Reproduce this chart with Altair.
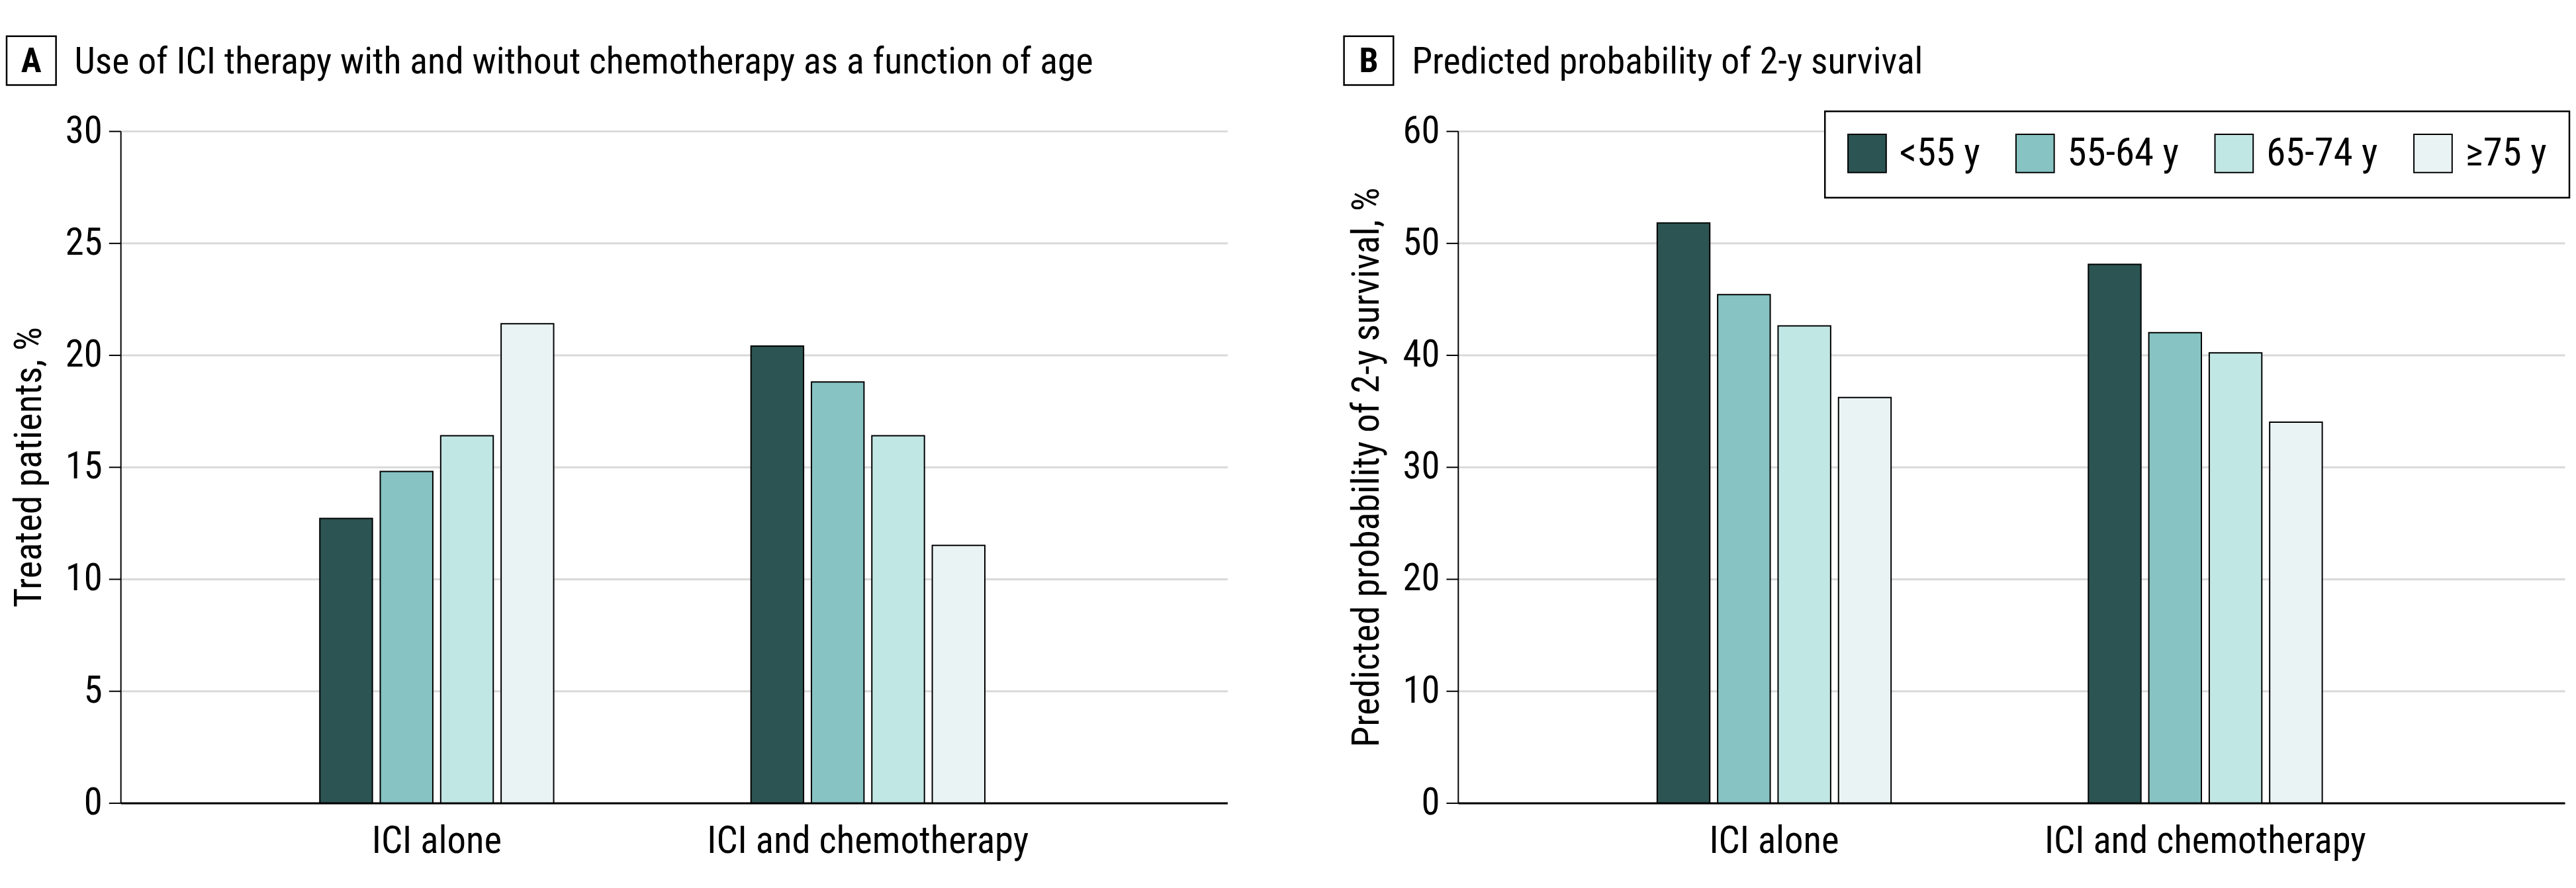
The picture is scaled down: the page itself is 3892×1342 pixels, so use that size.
import altair as alt
import pandas as pd

# ---- data ----
categories = ["ICI alone", "ICI and chemotherapy"]
age_groups = ["<55 y", "55-64 y", "65-74 y", "≥75 y"]
treated_ici_alone = [12.7, 14.8, 16.4, 21.4]
treated_ici_chemo = [20.4, 18.8, 16.4, 11.5]
survival_ici_alone = [51.8, 45.4, 42.6, 36.2]
survival_ici_chemo = [48.1, 42.0, 40.2, 34.0]
ticks_a = [0, 5, 10, 15, 20, 25, 30]
ticks_b = [0, 10, 20, 30, 40, 50, 60]
colors = ["#2b5453", "#86c3c2", "#c1e7e5", "#eaf3f4"]

title_a = "Use of ICI therapy with and without chemotherapy as a function of age"
title_b = "Predicted probability of 2-y survival"
ytitle_a = "Treated patients, %"
ytitle_b = "Predicted probability of 2-y survival, %"

FONT = "Liberation Sans Narrow, Roboto Condensed, DejaVu Sans Condensed, sans-serif"
FS = 57
W, H = 1680, 1020


def long_df(a, b):
    rows = []
    for cat, vals in zip(categories, [a, b]):
        for age, v in zip(age_groups, vals):
            rows.append({"treatment": cat, "age": age, "value": v})
    return pd.DataFrame(rows)


def panel(df, letter, title, ytitle, ticks, show_legend):
    if show_legend:
        legend = alt.Legend(
            orient="none", legendX=557, legendY=-30, direction="horizontal",
            title=None, symbolType="square", symbolSize=3364,
            symbolStrokeColor="black", symbolStrokeWidth=2, symbolOpacity=1,
            labelFontSize=59, labelFont=FONT, labelColor="black", labelLimit=0,
            labelOffset=19, columnPadding=50, padding=34,
            strokeColor="black", fillColor="white",
        )
    else:
        legend = None

    bars = alt.Chart(df).mark_bar(stroke="black", strokeWidth=2, opacity=1).encode(
        x=alt.X(
            "treatment:N", sort=categories, title=None,
            scale=alt.Scale(paddingInner=0.4576, paddingOuter=0.5123, align=0.451),
            axis=alt.Axis(
                labelAngle=0, ticks=False, grid=False, domainColor="black",
                domainWidth=3, labelPadding=30, labelFontSize=FS, labelFont=FONT,
                labelColor="black", labelLimit=0,
            ),
        ),
        xOffset=alt.XOffset(
            "age:N", sort=age_groups,
            scale=alt.Scale(paddingInner=0.13, paddingOuter=0),
        ),
        y=alt.Y(
            "value:Q", title=ytitle,
            scale=alt.Scale(domain=[ticks[0], ticks[-1]], nice=False),
            axis=alt.Axis(
                values=ticks, tickSize=18, tickWidth=2, tickColor="black",
                domainColor="black", domainWidth=2, gridColor="#d9d9d9",
                gridWidth=3, labelPadding=10, labelFontSize=FS, labelFont=FONT,
                labelColor="black", titleFontSize=FS, titleFont=FONT,
                titleFontWeight="normal", titleColor="black", titlePadding=25,
            ),
        ),
        color=alt.Color(
            "age:N", sort=age_groups,
            scale=alt.Scale(domain=age_groups, range=colors), legend=legend,
        ),
    )

    tdf = pd.DataFrame({"t": [title], "l": [letter]})
    box = alt.Chart(tdf).mark_rect(fill="white", stroke="black", strokeWidth=2.5).encode(
        x=alt.value(-173), x2=alt.value(-98), y=alt.value(-144), y2=alt.value(-70)
    )
    letter_txt = alt.Chart(tdf).mark_text(
        align="center", baseline="middle", font=FONT, fontSize=52,
        fontWeight="bold", color="black",
    ).encode(x=alt.value(-135.5), y=alt.value(-106), text="l:N")
    title_txt = alt.Chart(tdf).mark_text(
        align="left", baseline="alphabetic", font=FONT, fontSize=56, color="black",
    ).encode(x=alt.value(-70), y=alt.value(-88), text="t:N")

    return alt.layer(bars, box, letter_txt, title_txt).properties(width=W, height=H)


panel_a = panel(long_df(treated_ici_alone, treated_ici_chemo), "A", title_a, ytitle_a, ticks_a, False)
panel_b = panel(long_df(survival_ici_alone, survival_ici_chemo), "B", title_b, ytitle_b, ticks_b, True)

chart = (
    alt.hconcat(panel_a, panel_b, spacing=175)
    .resolve_scale(color="independent")
    .properties(padding={"left": 0, "top": 42, "right": 0, "bottom": 0})
    .configure_view(stroke=None)
    .configure_legend(strokeWidth=2.5)
)

chart.save("out.html", embed_options={"renderer": "svg", "actions": False})
